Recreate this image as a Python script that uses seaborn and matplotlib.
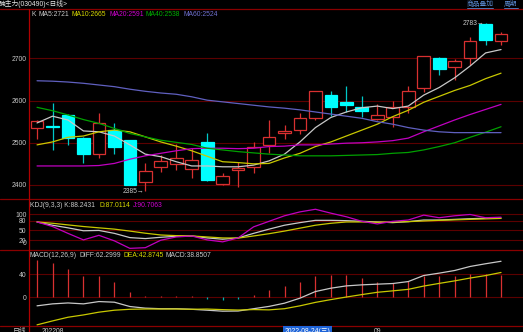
import numpy as np
import pandas as pd
import matplotlib
matplotlib.use("Agg")
import matplotlib.pyplot as plt
import seaborn as sns
from matplotlib.lines import Line2D

# ---------------- data ----------------
opens  = [2534, 2540, 2567, 2512, 2473, 2531, 2506, 2406, 2442, 2450, 2437, 2501, 2402, 2436, 2442, 2494,
          2522, 2530, 2558, 2613, 2596, 2585, 2557, 2562, 2585, 2631, 2700, 2679, 2700, 2781, 2741]
highs  = [2553, 2595, 2568, 2514, 2570, 2546, 2507, 2451, 2471, 2497, 2487, 2522, 2428, 2455, 2502, 2554,
          2542, 2571, 2623, 2623, 2634, 2611, 2591, 2599, 2634, 2706, 2704, 2698, 2750, 2783, 2762]
lows   = [2508, 2484, 2495, 2451, 2464, 2473, 2399, 2385, 2431, 2435, 2416, 2410, 2400, 2394, 2429, 2476,
          2510, 2520, 2553, 2563, 2573, 2562, 2554, 2538, 2570, 2621, 2660, 2650, 2684, 2733, 2733]
closes = [2552, 2537, 2512, 2473, 2548, 2489, 2400, 2434, 2457, 2463, 2459, 2412, 2422, 2441, 2489, 2514,
          2529, 2558, 2622, 2584, 2590, 2575, 2567, 2585, 2623, 2705, 2675, 2694, 2742, 2743, 2757]

ma5  = [2547, 2563, 2554, 2528, 2526, 2516, 2495, 2473, 2467, 2455, 2445, 2445, 2443, 2443, 2447, 2457,
        2473, 2502, 2536, 2560, 2573, 2583, 2587, 2581, 2587, 2613, 2631, 2654, 2682, 2713, 2721]
ma10 = [2495, 2502, 2513, 2516, 2526, 2530, 2526, 2514, 2502, 2492, 2481, 2468, 2455, 2453, 2450, 2451,
        2464, 2475, 2491, 2502, 2516, 2530, 2544, 2562, 2577, 2596, 2610, 2624, 2636, 2652, 2665]
ma20 = [2445, 2445, 2445, 2445, 2446, 2451, 2461, 2469, 2475, 2481, 2486, 2487, 2487, 2486, 2487, 2491,
        2492, 2495, 2495, 2497, 2499, 2500, 2502, 2505, 2511, 2526, 2540, 2554, 2567, 2579, 2591]
ma40 = [2584, 2576, 2566, 2555, 2546, 2534, 2522, 2514, 2506, 2501, 2496, 2487, 2483, 2479, 2476, 2473,
        2471, 2469, 2469, 2469, 2470, 2471, 2472, 2475, 2477, 2483, 2491, 2500, 2513, 2525, 2538]
ma60 = [2647, 2646, 2644, 2641, 2637, 2633, 2627, 2622, 2618, 2615, 2609, 2601, 2597, 2593, 2589, 2585,
        2582, 2578, 2573, 2568, 2563, 2558, 2550, 2544, 2536, 2530, 2526, 2524, 2524, 2524, 2524]

kdj_k = [76, 66, 58, 49, 50, 41, 28, 25, 29, 32, 33, 27, 23, 27, 41, 54,
         66, 74, 81, 81, 80, 78, 76, 74, 77, 82, 82, 84, 86, 87.5, 88.24]
kdj_d = [76, 72, 67, 62, 58, 54, 48, 41.5, 36, 34, 33, 30, 27, 26.5, 33, 40,
         48, 57, 66, 72, 76, 76, 75, 76, 77, 79, 81, 82.5, 84, 85.5, 87.01]
kdj_j = [76, 62, 41, 21, 35, 18, -5, -3, 20, 30, 33, 21, 15, 27, 61, 78,
         95, 107, 115, 103, 92, 78, 70, 78, 82, 97, 89, 95, 99, 89, 90.71]

macd_hist = [65, 59, 48.7, 36, 36, 27, 9.8, 2.9, 1.7, 1.7, 1.5, -4, -5.5, -3.5, 4.6, 12.7,
             19.7, 26.6, 37, 38.8, 38, 33, 26.6, 24.3, 27.4, 37, 36, 36, 40, 40, 38.85]
macd_diff = [-15, -11.6, -10, -11.6, -7.6, -8.7, -16.2, -19, -20, -20, -21, -22.6, -24.3, -24, -20, -16,
             -10.4, -1.7, 9.8, 15.6, 19.6, 21.4, 22.6, 23.7, 27.1, 37.6, 41.7, 46.3, 53.3, 58, 62.3]
macd_dea = [-48, -41.2, -34.8, -30.8, -26, -22.6, -21, -20.5, -20.5, -20.5, -21, -20.6, -21.6, -22.3, -21.5, -22,
            -20, -15, -9, -4.2, 0.3, 4.5, 8.5, 11, 13.6, 19.3, 23.9, 28.3, 33.2, 37.5, 42.87]

price_ticks = [2400, 2500, 2600, 2700]
kdj_ticks = [100, 80, 50, 20, 0]
macd_ticks = [40, 0]

# ---------------- style ----------------
sns.set_theme(style="dark", rc={"axes.facecolor": "black", "figure.facecolor": "black"})
plt.rcParams["font.family"] = ["Liberation Sans", "Noto Sans CJK SC", "DejaVu Sans"]

W, H = 523, 332
FS = 4.9
GRID = "#5c0000"
BORDER = "#8a0000"
TXT = "#c8c8c8"
UP = "#d83030"
DOWN = "#00ffff"
C_MA = {"MA5": "#c8c8c8", "MA10": "#c8c800", "MA20": "#c000c0", "MA40": "#00a000", "MA60": "#6060c0"}

fig = plt.figure(figsize=(W / 100, H / 100), dpi=100)
fig.patch.set_facecolor("black")


def fx(x):
    return x / W


def fy(y):
    return 1 - y / H


n = len(closes)
idx = np.arange(n)


def add_ax(top, bottom, ticks):
    ax = fig.add_axes([fx(29), fy(bottom), fx(W) - fx(29), (bottom - top) / H])
    ax.set_facecolor("black")
    for s in ax.spines.values():
        s.set_visible(False)
    ax.grid(False)
    for t in ticks:
        ax.axhline(t, color=GRID, lw=0.8, zorder=0)
    return ax


def finish(ax, ylim, ticks):
    ax.set_xlim(-0.52, 31.42)
    ax.set_ylim(*ylim)
    ax.set_xticks([])
    ax.set_yticks(ticks)
    ax.set_yticklabels([str(t) for t in ticks])
    ax.tick_params(axis="y", length=0, pad=1.8, labelsize=FS, labelcolor=TXT)
    ax.set_xlabel("")
    ax.set_ylabel("")


# ---------------- main price panel ----------------
ax1 = add_ax(9.5, 198, price_ticks)
o = np.array(opens, float)
c = np.array(closes, float)
hi = np.array(highs, float)
lo = np.array(lows, float)
up = c >= o
wick_cols = [UP if u else "#00c8c8" for u in up]
ax1.vlines(idx, lo, hi, colors=wick_cols, lw=0.9, zorder=2)
ax1.bar(idx, np.maximum(np.abs(c - o), 0.8), bottom=np.minimum(o, c), width=0.82,
        color=["black" if u else DOWN for u in up],
        edgecolor=[UP if u else DOWN for u in up], linewidth=0.9, zorder=3)

ma_df = pd.DataFrame({
    "idx": np.tile(idx, 5),
    "value": np.concatenate([ma5, ma10, ma20, ma40, ma60]),
    "series": np.repeat(["MA5", "MA10", "MA20", "MA40", "MA60"], n),
})
sns.lineplot(data=ma_df, x="idx", y="value", hue="series", palette=C_MA, ax=ax1,
             legend=False, lw=0.9, zorder=4, estimator=None, sort=False)
finish(ax1, (2369, 2816), price_ticks)

# high / low markers
i_lo = int(np.argmin(lo))
i_hi = int(np.argmax(hi))
ax1.text(i_lo - 0.08, lo[i_lo], f"{int(lo[i_lo])}→", color=TXT, fontsize=FS, ha="right", va="center", zorder=5)
ax1.text(i_hi - 0.08, hi[i_hi], f"{int(hi[i_hi])}→", color=TXT, fontsize=FS, ha="right", va="center", zorder=5)

# ---------------- KDJ panel ----------------
ax2 = add_ax(199.5, 249, kdj_ticks[:-1])
kdj_df = pd.DataFrame({
    "idx": np.tile(idx, 3),
    "value": np.concatenate([kdj_k, kdj_d, kdj_j]),
    "series": np.repeat(["K", "D", "J"], n),
})
sns.lineplot(data=kdj_df, x="idx", y="value", hue="series",
             palette={"K": "#c8c8c8", "D": "#c8c800", "J": "#c000c0"}, ax=ax2,
             legend=False, lw=0.9, zorder=4, estimator=None, sort=False)
finish(ax2, (-7, 145), kdj_ticks)
for lab in ax2.get_yticklabels():
    if lab.get_text() == "0":
        lab.set_va("bottom")

# ---------------- MACD panel ----------------
ax3 = add_ax(250.5, 326, macd_ticks)
hist = np.array(macd_hist, float)
ax3.vlines(idx, 0, hist, colors=[UP if v >= 0 else "#00b4b4" for v in hist], lw=0.9, zorder=2)
macd_df = pd.DataFrame({
    "idx": np.tile(idx, 2),
    "value": np.concatenate([macd_diff, macd_dea]),
    "series": np.repeat(["DIFF", "DEA"], n),
})
sns.lineplot(data=macd_df, x="idx", y="value", hue="series",
             palette={"DIFF": "#c8c8c8", "DEA": "#c8c800"}, ax=ax3,
             legend=False, lw=0.9, zorder=4, estimator=None, sort=False)
finish(ax3, (-50, 81), macd_ticks)

# ---------------- frame lines ----------------
for yy in [9.3, 199.0, 249.6, 326.3]:
    fig.add_artist(Line2D([0, 1], [fy(yy), fy(yy)], color=BORDER, lw=0.9, transform=fig.transFigure))
fig.add_artist(Line2D([fx(29.2), fx(29.2)], [0, fy(9.3)], color="#b00000", lw=0.9, transform=fig.transFigure))


# ---------------- texts ----------------
def ftxt(x, y, s, color=TXT, **kw):
    fig.text(fx(x), fy(y), s, color=color, fontsize=FS, ha="left", va="center", **kw)


ftxt(-1, 4.2, "腩主力(030490)<日线>", color="#e8e8e8")
ftxt(467, 4.2, "商品叠加", color="#5a8ad0")
ftxt(504, 4.2, "周期", color="#5a8ad0")
for x0, x1 in [(467, 493), (504, 518)]:
    fig.add_artist(Line2D([fx(x0), fx(x1)], [fy(7.6), fy(7.6)], color="#5a8ad0", lw=0.6, transform=fig.transFigure))

# main legend
ftxt(31, 15, "K", color=TXT)
ftxt(38, 15, f"MA5:{ma5[-1]}", color=C_MA["MA5"])
ftxt(72, 15, f"MA10:{ma10[-1]}", color="#d8d800")
ftxt(109, 15, f"MA20:{ma20[-1]}", color="#d000d0")
ftxt(146, 15, f"MA40:{ma40[-1]}", color="#00b000")
ftxt(183, 15, f"MA60:{ma60[-1]}", color="#7070d0")

# KDJ legend
ftxt(30, 205.3, "KDJ(9,3,3) K:88.2431", color=TXT)
ftxt(99, 205.3, "D:87.0114", color="#d8d800")
ftxt(133, 205.3, "J:90.7063", color="#d000d0")

# MACD legend
ftxt(30, 255.7, "MACD(12,26,9)", color=TXT)
ftxt(80, 255.7, "DIFF:62.2999", color=TXT)
ftxt(123, 255.7, "DEA:42.8745", color="#d8d800")
ftxt(166, 255.7, "MACD:38.8507", color=TXT)

# bottom date row (cut by figure edge, as in the reference)
fig.text(fx(13), fy(327.8), "日线", color=TXT, fontsize=FS, ha="left", va="top")
fig.text(fx(42), fy(327.8), "202208", color=TXT, fontsize=FS, ha="left", va="top")
fig.text(fx(285), fy(328.2), "2022-08-24(三)", color="white", fontsize=FS, ha="left", va="top",
         bbox=dict(boxstyle="square,pad=0.25", facecolor="#1e64d8", edgecolor="none"))
fig.text(fx(374), fy(327.8), "09", color=TXT, fontsize=FS, ha="left", va="top")

fig.savefig("out.png", dpi=100, facecolor="black")
